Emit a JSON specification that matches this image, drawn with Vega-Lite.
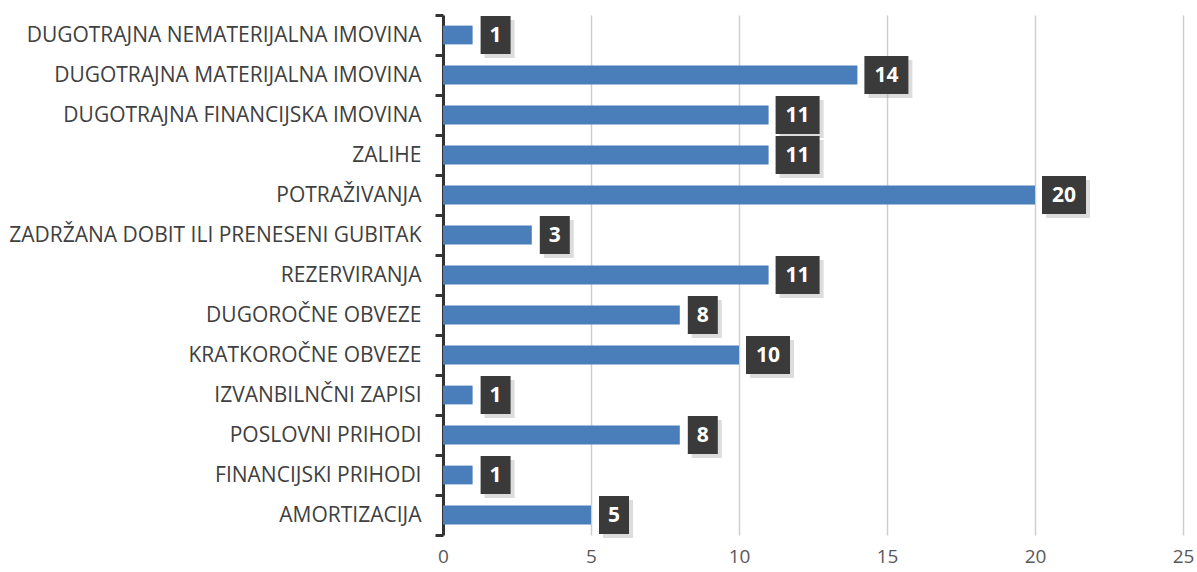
{
  "$schema": "https://vega.github.io/schema/vega-lite/v6.json",
  "width": 740,
  "height": 520,
  "autosize": {"type": "none"},
  "padding": {"left": 443, "top": 15, "right": 14, "bottom": 37},
  "background": "white",
  "config": {"view": {"stroke": null}},
  "data": {
    "values": [
      {"kategorija": "DUGOTRAJNA NEMATERIJALNA IMOVINA", "value": 1},
      {"kategorija": "DUGOTRAJNA MATERIJALNA IMOVINA", "value": 14},
      {"kategorija": "DUGOTRAJNA FINANCIJSKA IMOVINA", "value": 11},
      {"kategorija": "ZALIHE", "value": 11},
      {"kategorija": "POTRAŽIVANJA", "value": 20},
      {"kategorija": "ZADRŽANA DOBIT ILI PRENESENI GUBITAK", "value": 3},
      {"kategorija": "REZERVIRANJA", "value": 11},
      {"kategorija": "DUGOROČNE OBVEZE", "value": 8},
      {"kategorija": "KRATKOROČNE OBVEZE", "value": 10},
      {"kategorija": "IZVANBILNČNI ZAPISI", "value": 1},
      {"kategorija": "POSLOVNI PRIHODI", "value": 8},
      {"kategorija": "FINANCIJSKI PRIHODI", "value": 1},
      {"kategorija": "AMORTIZACIJA", "value": 5}
    ]
  },
  "encoding": {
    "y": {
      "field": "kategorija",
      "type": "nominal",
      "sort": null,
      "scale": {"paddingInner": 0, "paddingOuter": 0},
      "axis": {
        "title": null,
        "domainColor": "#333333",
        "domainWidth": 3,
        "tickColor": "#333333",
        "tickWidth": 3,
        "tickSize": 8,
        "tickBand": "extent",
        "labelFont": "Open Sans",
        "labelFontSize": 21,
        "labelColor": "#404040",
        "labelPadding": 14,
        "labelLimit": 600
      }
    }
  },
  "layer": [
    {
      "mark": {"type": "bar", "color": "#4a7ebb", "height": {"band": 0.47}},
      "encoding": {
        "x": {
          "field": "value",
          "type": "quantitative",
          "scale": {"domain": [0, 25], "nice": false},
          "axis": {
            "title": null,
            "values": [0, 5, 10, 15, 20, 25],
            "domain": false,
            "ticks": false,
            "grid": true,
            "gridColor": "#cfcfcf",
            "gridWidth": 1.5,
            "labelFlush": false,
            "labelFont": "Open Sans",
            "labelFontSize": 19,
            "labelColor": "#595959",
            "labelPadding": 12
          }
        }
      }
    },
    {
      "transform": [{"filter": "datum.value < 10"}],
      "mark": {"type": "rect", "color": "#9a9a9a", "opacity": 0.35, "xOffset": 12, "x2Offset": 42, "yOffset": 4, "y2Offset": 4, "height": {"band": 0.95}},
      "encoding": {"x": {"field": "value", "type": "quantitative"}, "x2": {"field": "value"}}
    },
    {
      "transform": [{"filter": "datum.value >= 10"}],
      "mark": {"type": "rect", "color": "#9a9a9a", "opacity": 0.35, "xOffset": 11, "x2Offset": 55, "yOffset": 4, "y2Offset": 4, "height": {"band": 0.95}},
      "encoding": {"x": {"field": "value", "type": "quantitative"}, "x2": {"field": "value"}}
    },
    {
      "transform": [{"filter": "datum.value < 10"}],
      "mark": {"type": "rect", "color": "#3a3a3a", "xOffset": 8, "x2Offset": 38, "height": {"band": 0.95}},
      "encoding": {"x": {"field": "value", "type": "quantitative"}, "x2": {"field": "value"}}
    },
    {
      "transform": [{"filter": "datum.value >= 10"}],
      "mark": {"type": "rect", "color": "#3a3a3a", "xOffset": 7, "x2Offset": 51, "height": {"band": 0.95}},
      "encoding": {"x": {"field": "value", "type": "quantitative"}, "x2": {"field": "value"}}
    },
    {
      "mark": {"type": "text", "align": "left", "baseline": "middle", "dx": 17, "dy": 1, "font": "Open Sans", "fontWeight": "bold", "fontSize": 21, "color": "white"},
      "encoding": {
        "x": {"field": "value", "type": "quantitative"},
        "text": {"field": "value", "type": "quantitative"}
      }
    }
  ]
}
